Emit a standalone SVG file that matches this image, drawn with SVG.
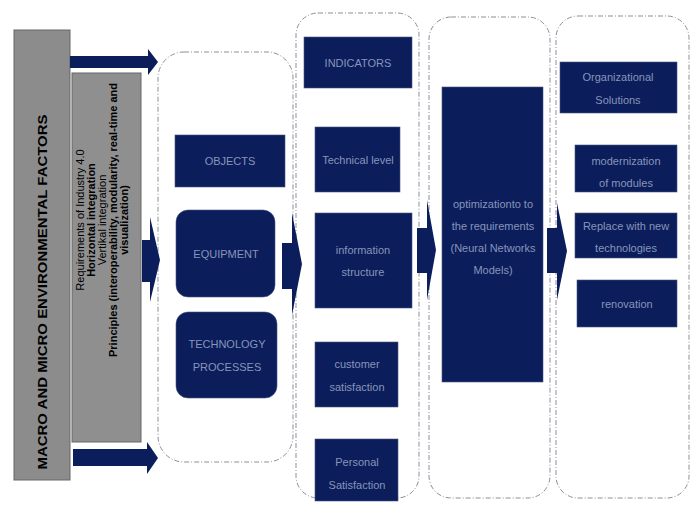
<svg xmlns="http://www.w3.org/2000/svg" width="697" height="505" viewBox="0 0 697 505">
<style>
.cont{fill:none;stroke:#8a8f99;stroke-width:1;stroke-dasharray:5,2,1,2}
.nb{fill:#0b1d5a;stroke:#4a5680;stroke-width:0.6}
.nt{font-family:"Liberation Sans",Arial,sans-serif;font-size:11px;fill:#8795bb;text-anchor:middle}
.arr{fill:#0b1d5a}
.gt{font-family:"Liberation Sans",Arial,sans-serif;fill:#000;text-anchor:middle}
</style>
<rect width="697" height="505" fill="#ffffff"/>
<g id="macro">
<rect x="14" y="30" width="56" height="450" fill="#8c8c8c" stroke="#666" stroke-width="1"/>
<text class="gt" transform="translate(47,292) rotate(-90)" font-size="13.5" font-weight="bold" textLength="355" lengthAdjust="spacingAndGlyphs">MACRO AND MICRO ENVIRONMENTAL  FACTORS</text>
</g>
<g id="requirements">
<rect x="72" y="73" width="69" height="369" fill="#8f8f8f" stroke="#666" stroke-width="1"/>
<g transform="translate(0,220) rotate(-90)" font-size="11">
<text class="gt" x="0" y="84">Requirements  of Industry 4.0</text>
<text class="gt" x="0" y="95" font-weight="bold">Horizontal integration</text>
<text class="gt" x="0" y="106">Vertikal integration</text>
<text class="gt" x="0" y="117" font-weight="bold">Principles (interoperability, modularity, real-time and</text>
<text class="gt" x="0" y="128" font-weight="bold">visualization)</text>
</g>
</g>
<g id="containers">
<rect class="cont" x="158" y="52" width="135" height="410" rx="26"/>
<rect class="cont" x="296" y="13" width="123" height="485" rx="22"/>
<rect class="cont" x="429" y="17" width="121" height="481" rx="22"/>
<rect class="cont" x="556" y="16" width="133" height="482" rx="22"/>
</g>
<g id="objects"><rect class="nb" x="175" y="135" width="110" height="52"/><text class="nt" x="230" y="165">OBJECTS</text></g>
<g id="equipment"><rect class="nb" x="176" y="210" width="99" height="87" rx="12"/><text class="nt" x="226" y="258">EQUIPMENT</text></g>
<g id="technology"><rect class="nb" x="176" y="312" width="101" height="86" rx="12"/><text class="nt" x="227" y="348">TECHNOLOGY</text><text class="nt" x="227" y="371">PROCESSES</text></g>
<g id="indicators"><rect class="nb" x="304" y="37" width="108" height="51"/><text class="nt" x="358" y="67">INDICATORS</text></g>
<g id="technical"><rect class="nb" x="315" y="127" width="85" height="65"/><text class="nt" x="358" y="164">Technical level</text></g>
<g id="information"><rect class="nb" x="315" y="213" width="97" height="95"/><text class="nt" x="363" y="254">information</text><text class="nt" x="363" y="276">structure</text></g>
<g id="customer"><rect class="nb" x="315" y="342" width="83" height="65"/><text class="nt" x="357" y="368">customer</text><text class="nt" x="357" y="391">satisfaction</text></g>
<g id="personal"><rect class="nb" x="315" y="439" width="83" height="62"/><text class="nt" x="357" y="466">Personal</text><text class="nt" x="357" y="489">Satisfaction</text></g>
<g id="optimization"><rect class="nb" x="442" y="87" width="101" height="295"/><text class="nt" x="493" y="208" font-size="11.5">optimizationto to</text><text class="nt" x="493" y="230" font-size="11.5">the requirements</text><text class="nt" x="493" y="252" font-size="11.5">(Neural Networks</text><text class="nt" x="493" y="274" font-size="11.5">Models)</text></g>
<g id="organizational"><rect class="nb" x="560" y="62" width="117" height="51"/><text class="nt" x="618" y="81">Organizational</text><text class="nt" x="618" y="104">Solutions</text></g>
<g id="modernization"><rect class="nb" x="575" y="145" width="102" height="47"/><text class="nt" x="626" y="165">modernization</text><text class="nt" x="626" y="187">of modules</text></g>
<g id="replace"><rect class="nb" x="575" y="213" width="102" height="45"/><text class="nt" x="626" y="230">Replace with new</text><text class="nt" x="626" y="252">technologies</text></g>
<g id="renovation"><rect class="nb" x="577" y="280" width="100" height="47"/><text class="nt" x="627" y="308">renovation</text></g>
<g id="connectors">
<polygon class="arr" points="70,56 148,56 148,49 158,62 148,75 148,68 70,68"/>
<polygon class="arr" points="73,449 147,449 147,442 158,458 147,474 147,466 73,466"/>
<polygon class="arr" points="142,240 150,240 150,217 160,260 150,302 150,282 142,282"/>
<polygon class="arr" points="282,243 292,243 292,213 302,264 292,315 292,289 282,289"/>
<polygon class="arr" points="417,228 427,228 427,200 436,250 427,300 427,273 417,273"/>
<polygon class="arr" points="547,228 557,228 557,203 567,251 557,300 557,273 547,273"/>
</g>
</svg>
